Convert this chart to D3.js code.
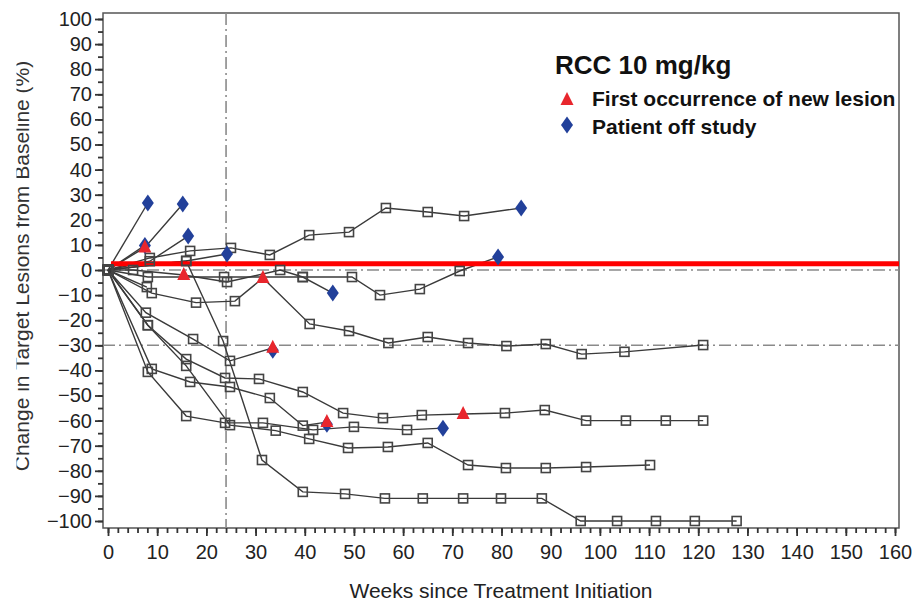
<!DOCTYPE html>
<html><head><meta charset="utf-8">
<script src="https://cdn.jsdelivr.net/npm/d3@7"></script>
<style>html,body{margin:0;padding:0;background:#fff;}svg{display:block;font-family:"Liberation Sans",Arial,sans-serif;}</style>
</head><body>
<svg id="chart" width="920" height="603"></svg>
<script>
// ---- data: [week, % change] per patient ----
const patient01 = [[0,0],[8.1,26.7]];
const patient02 = [[0,0],[7.5,9],[15.2,26.3]];
const patient03 = [[0,0],[7.5,9.8]];
const patient04 = [[0,0],[8.5,3.5],[16.3,13.5]];
const patient05 = [[0,0],[8.5,4.8],[16.7,7.6],[25,8.8],[32.9,6],[40.9,13.9],[49,15.1],[56.5,24.7],[65,23.1],[72.4,21.5],[84,24.7]];
const patient06 = [[0,0],[15.9,3.6],[24.2,6.4]];
const patient07 = [[0,0],[15.9,3.6],[23.4,-28.3],[31.3,-75.7],[39.6,-88.4],[48.2,-89.2],[56.3,-91],[64,-91],[72.2,-91],[79.9,-91],[88.2,-91],[96.1,-100],[103.5,-100],[111.4,-100],[119.3,-100],[127.8,-100]];
const patient08 = [[0,0],[5.1,0],[15.4,-2],[24.2,-4.8],[35,0],[39.6,-2.8],[49.6,-2.8],[55.3,-10],[63.4,-7.6],[71.5,-0.4],[79.3,5.2]];
const patient09 = [[0,0],[8.1,-2.8],[23.6,-2.8],[39.6,-2.8],[45.7,-9.2]];
const patient10 = [[0,0],[8.9,-9.2],[17.9,-13],[25.8,-12.4],[31.5,-3.2],[41,-21.5],[49,-24.3],[57,-29.1],[65,-26.7],[73.2,-29.1],[81,-30.3],[89,-29.5],[96.3,-33.5],[105,-32.6],[121,-29.9]];
const patient11 = [[0,0],[7.9,-6.8]];
const patient12 = [[0,0],[7.7,-17],[17.3,-27.5],[24.8,-36.2],[33.5,-31]];
const patient13 = [[0,0],[8.1,-22],[15.9,-35.5],[23.8,-43],[30.7,-43.4],[39.6,-48.6],[47.8,-57],[55.9,-59],[63.8,-57.8],[72.2,-57.4],[80.7,-57],[88.8,-55.8],[97.2,-60],[105.3,-60],[113.4,-60],[121,-60]];
const patient14 = [[0,0],[8.1,-22],[15.9,-38.2],[24.8,-61.8],[34.1,-64],[40.9,-67.3],[48.8,-70.9],[56.9,-70.5],[65,-68.9],[73.2,-77.7],[80.9,-78.9],[89,-78.9],[97.2,-78.5],[110.2,-77.7]];
const patient15 = [[0,0],[8.1,-40.6],[15.9,-58.2],[23.8,-60.9],[31.5,-60.9],[41.7,-63.7],[50,-62.5],[60.8,-63.7],[68.1,-63]];
const patient16 = [[0,0],[8.9,-39.4],[16.7,-44.6],[24.8,-46.6],[32.9,-51],[39.6,-62],[44.5,-60.6]];
const patients = [patient01,patient02,patient03,patient04,patient05,patient06,patient07,patient08,patient09,patient10,patient11,patient12,patient13,patient14,patient15,patient16];

const newLesion = [[7.5,9],[15.4,-2],[31.5,-3.2],[33.5,-31],[44.5,-60.6],[72.2,-57.4]];
const offStudy  = [[8.1,26.7],[15.2,26.3],[7.5,9.8],[16.3,13.5],[24.2,6.4],[45.7,-9.2],[79.3,5.2],[84,24.7],[33.5,-32],[44.5,-61.5],[68.1,-63]];

const xTicks = d3.range(0,161,10);
const xMinor = d3.range(0,161,2);
const yTicks = d3.range(-100,101,10);
const yMinor = d3.range(-100,101,5);
const refLinesY = [0,-30];
const refLineX = 24;
const thresholdY = 2.5;

const legendTitle = "RCC 10 mg/kg";
const legendLabels = ["First occurrence of new lesion","Patient off study"];
const xTitle = "Weeks since Treatment Initiation";
const yTitle = "Change in Target Lesions from Baseline (%)";

// ---- drawing ----
const svg = d3.select("#chart");
const x = d3.scaleLinear().domain([0,160]).range([108,895]);
const y = d3.scaleLinear().domain([-100,100]).range([521,19]);
const L = 103, R = 899, T = 13, B = 528;

const darkLine = "#3a3a3a";

// frame
svg.append("rect").attr("x",L).attr("y",T).attr("width",R-L).attr("height",B-T)
  .attr("fill","none").attr("stroke","#555").attr("stroke-width",1.5);

// reference lines
const dash = "12,4,2,4";
svg.append("line").attr("x1",x(refLineX)).attr("x2",x(refLineX)).attr("y1",T).attr("y2",B)
  .attr("stroke","#8a8a8a").attr("stroke-width",1.6).attr("stroke-dasharray",dash);
refLinesY.forEach(v=>{
  svg.append("line").attr("x1",L).attr("x2",R).attr("y1",y(v)).attr("y2",y(v))
    .attr("stroke","#8a8a8a").attr("stroke-width",1.6).attr("stroke-dasharray",dash);
});

// y axis
svg.append("g").attr("transform",`translate(${L},0)`)
  .call(d3.axisLeft(y).tickValues(yTicks).tickSize(8).tickPadding(3).tickFormat(d3.format("d")));
svg.append("g").attr("transform",`translate(${L},0)`)
  .call(d3.axisLeft(y).tickValues(yMinor).tickSize(5).tickFormat(""));
// x axis
svg.append("g").attr("transform",`translate(0,${B})`)
  .call(d3.axisBottom(x).tickValues(xTicks).tickSize(8).tickPadding(9).tickFormat(d3.format("d")));
svg.append("g").attr("transform",`translate(0,${B})`)
  .call(d3.axisBottom(x).tickValues(xMinor).tickSize(5).tickFormat(""));
svg.selectAll(".domain").remove();
svg.selectAll(".tick line").attr("stroke","#333").attr("stroke-width",1.8);
svg.selectAll(".tick text").attr("font-size","20px").attr("fill","#222")
  .attr("font-family","'Liberation Sans',Arial,sans-serif");

// data lines
const line = d3.line().x(d=>x(d[0])).y(d=>y(d[1]));
svg.append("g").selectAll("path").data(patients).join("path")
  .attr("d",line).attr("fill","none").attr("stroke",darkLine).attr("stroke-width",1.4);

// threshold red line
svg.append("line").attr("x1",x(0)+3).attr("x2",R).attr("y1",y(thresholdY)).attr("y2",y(thresholdY))
  .attr("stroke","#ff0000").attr("stroke-width",5);

// squares (skip points carrying an event marker)
const isEvent = p => newLesion.concat(offStudy).some(e=>e[0]===p[0]&&e[1]===p[1]);
const sqPts = [];
patients.forEach(pts=>pts.forEach(p=>{ if(!isEvent(p)) sqPts.push(p); }));
svg.append("g").selectAll("rect").data(sqPts).join("rect")
  .attr("x",d=>x(d[0])-4.5).attr("y",d=>y(d[1])-4.5).attr("width",9).attr("height",9)
  .attr("fill","none").attr("stroke","#444").attr("stroke-width",1.6);

// markers
const diamondPath = (cx,cy)=>`M${cx},${cy-8.5}L${cx+6},${cy}L${cx},${cy+8.5}L${cx-6},${cy}Z`;
const triPath = (cx,cy)=>`M${cx},${cy-8}L${cx+6.5},${cy+5}L${cx-6.5},${cy+5}Z`;
svg.append("g").selectAll("path").data(offStudy).join("path")
  .attr("d",d=>diamondPath(x(d[0]),y(d[1]))).attr("fill","#22409a");
svg.append("g").selectAll("path").data(newLesion).join("path")
  .attr("d",d=>triPath(x(d[0]),y(d[1]))).attr("fill","#e8262d");

// legend
svg.append("text").attr("x",555).attr("y",74).attr("font-size","26px").attr("font-weight","bold")
  .attr("fill","#111").text(legendTitle);
svg.append("path").attr("d",triPath(567,100)).attr("fill","#e8262d");
svg.append("path").attr("d",diamondPath(567,125)).attr("fill","#22409a");
svg.append("text").attr("x",592).attr("y",106).attr("font-size","21px").attr("font-weight","bold")
  .attr("fill","#111").text(legendLabels[0]);
svg.append("text").attr("x",592).attr("y",134).attr("font-size","21px").attr("font-weight","bold")
  .attr("fill","#111").text(legendLabels[1]);

// axis titles
svg.append("text").attr("x",(L+R)/2).attr("y",598).attr("text-anchor","middle")
  .attr("font-size","21px").attr("fill","#222").text(xTitle);
svg.append("clipPath").attr("id","ytclip").append("rect")
  .attr("x",16.5).attr("y",0).attr("width",80).attr("height",603);
svg.append("g").attr("clip-path","url(#ytclip)").append("text")
  .attr("transform",`translate(29,266) rotate(-90)`).attr("text-anchor","middle")
  .attr("font-size","21px").attr("fill","#333").text(yTitle);
</script>
</body></html>
